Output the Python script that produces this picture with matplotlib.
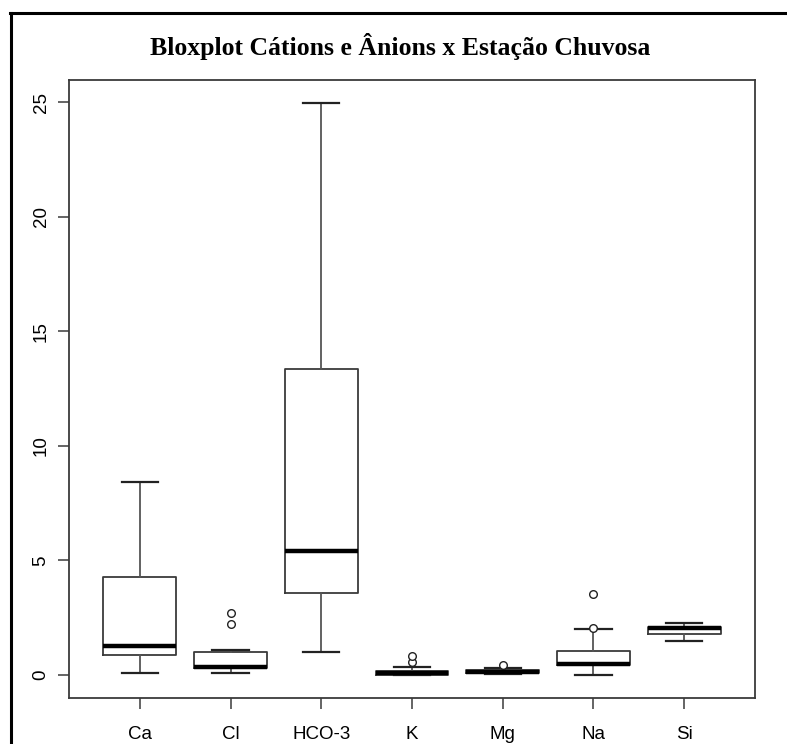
import matplotlib.pyplot as plt
from matplotlib.lines import Line2D

# values
labels = ['Ca', 'Cl', 'HCO-3', 'K', 'Mg', 'Na', 'Si']
whislo = [0.10, 0.10, 0.99, 0.00, 0.04, 0.00, 1.47]
q1 = [0.89, 0.33, 3.59, 0.02, 0.08, 0.45, 1.79]
med = [1.25, 0.36, 5.41, 0.10, 0.13, 0.49, 2.05]
q3 = [4.30, 0.99, 13.35, 0.19, 0.20, 1.05, 2.08]
whishi = [8.42, 1.09, 24.94, 0.36, 0.32, 2.00, 2.28]
fliers = [[], [2.25, 2.72], [], [0.58, 0.84], [0.44], [2.04, 3.52], []]

title = 'Bloxplot Cátions e Ânions x Estação Chuvosa'

stats = []
for i, lab in enumerate(labels):
    stats.append(dict(label=lab, whislo=whislo[i], q1=q1[i], med=med[i],
                      q3=q3[i], whishi=whishi[i], fliers=fliers[i]))

fig = plt.figure(figsize=(7.87, 7.44), dpi=100)
ax = fig.add_axes([69 / 787, 46 / 744, 686 / 787, 618 / 744])

edge = '#3a3a3a'
# R style: box width 0.8, staples half as wide
ax.bxp(stats, positions=range(1, 8), widths=0.8, capwidths=0.4,
       showfliers=True,
       boxprops=dict(color=edge, linewidth=1.3),
       whiskerprops=dict(color='#555555', linewidth=1.3, linestyle='-'),
       capprops=dict(color='#222222', linewidth=1.6),
       medianprops=dict(color='black', linewidth=3.2, solid_capstyle='butt'),
       flierprops=dict(marker='o', markerfacecolor='white',
                       markeredgecolor='#222222', markersize=5.5,
                       markeredgewidth=1.0))

ax.set_xlim(0.22, 7.78)
ax.set_ylim(-1.0, 25.96)
ax.set_yticks([0, 5, 10, 15, 20, 25])
ax.set_xticks(range(1, 8))
ax.set_xticklabels(labels)
for lbl in ax.get_yticklabels():
    lbl.set_rotation(90)
    lbl.set_va('center')

for s in ax.spines.values():
    s.set_color(edge)
    s.set_linewidth(1.3)
ax.tick_params(axis='both', length=8, width=1.1, color=edge, labelsize=13.5)
ax.tick_params(axis='x', pad=12)
ax.tick_params(axis='y', pad=6)
for lbl in ax.get_xticklabels() + ax.get_yticklabels():
    lbl.set_fontfamily('Liberation Sans')

fig.text(0.5 * (69 + 755) / 787 - 0.015, 1 - 47 / 744, title,
         ha='center', va='center', fontsize=18.5, fontweight='bold',
         family='Liberation Serif')

# outer frame (cut off at the right and bottom edges)
fig.add_artist(Line2D([10 / 787, 1.0], [1 - 13 / 744, 1 - 13 / 744],
                      color='black', linewidth=2.2, transform=fig.transFigure))
fig.add_artist(Line2D([11 / 787, 11 / 787], [0.0, 1 - 13 / 744],
                      color='black', linewidth=2.2, transform=fig.transFigure))

plt.savefig('out.png', dpi=100)
plt.close()
